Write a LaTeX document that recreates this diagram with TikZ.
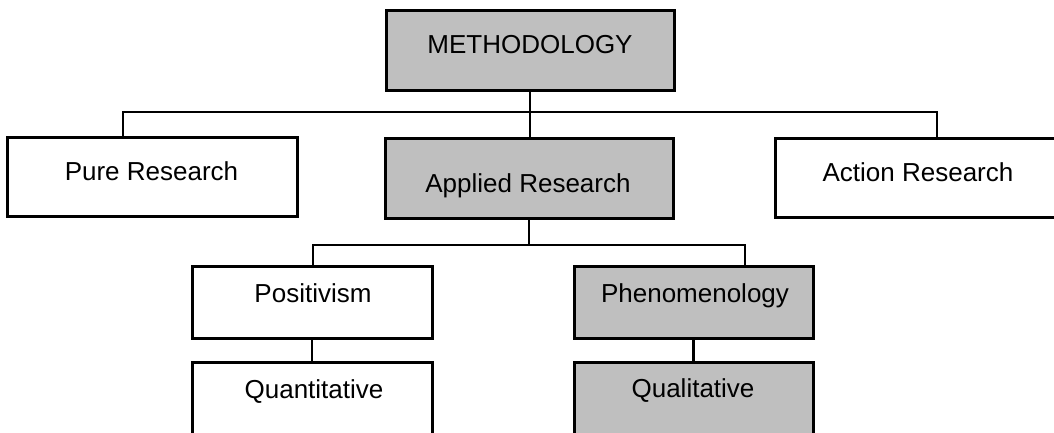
\documentclass[tikz,border=0pt]{standalone}
\usepackage{fontspec}
\setmainfont{Liberation Sans}
\begin{document}
\begin{tikzpicture}[x=1pt,y=-1pt,
  box/.style={draw=black, line width=3pt, fill=white, inner sep=0pt},
  shaded/.style={box, fill=black!25},
  lbl/.style={anchor=base, font=\fontsize{26}{30}\selectfont, inner sep=0pt},
  link/.style={draw=black, line width=2.5pt}]
\useasboundingbox (0,0) rectangle (1054,432);
\clip (0,0) rectangle (1054,432);

% boxes
\node[shaded, minimum width=288pt, minimum height=80pt] (meth)    at (530,50)    {};
\node[box,    minimum width=290pt, minimum height=79pt] (pure)    at (152,176.5) {};
\node[shaded, minimum width=288pt, minimum height=80pt] (applied) at (529,178)   {};
\node[box,    minimum width=295pt, minimum height=79pt] (action)  at (922.5,177.5) {};
\node[box,    minimum width=240pt, minimum height=72pt] (posit)   at (312,302)   {};
\node[shaded, minimum width=239pt, minimum height=72pt] (phen)    at (693.5,302) {};
\node[box,    minimum width=240pt, minimum height=78pt] (quant)   at (312,401)   {};
\node[shaded, minimum width=239pt, minimum height=78pt] (qual)    at (693.5,401) {};

% labels
\node[lbl] (meth-t)    at (530,53)    {METHODOLOGY};
\node[lbl] (pure-t)    at (151.5,180) {Pure Research};
\node[lbl] (applied-t) at (528,192)   {Applied Research};
\node[lbl] (action-t)  at (918,181)   {Action Research};
\node[lbl] (posit-t)   at (313,302)   {Positivism};
\node[lbl] (phen-t)    at (695,302)   {Phenomenology};
\node[lbl] (quant-t)   at (314,398)   {Quantitative};
\node[lbl] (qual-t)    at (693,397)   {Qualitative};

% first level branches
\coordinate (bL) at (123,112);
\coordinate (bR) at (937,112);
\draw[link] (meth.south) -- (meth.south |- applied.north);
\draw[link] (bL |- pure.north) -- (bL) -- (bR) -- (bR |- action.north);

% second level branches
\coordinate (cL) at (313,245);
\coordinate (cR) at (745,245);
\draw[link] (applied.south) -- (applied.south |- cL);
\draw[link] (cL |- posit.north) -- (cL) -- (cR) -- (cR |- phen.north);
\draw[link] (posit.south) -- (quant.north);
\draw[link] (phen.south) -- (qual.north);
\end{tikzpicture}
\end{document}
